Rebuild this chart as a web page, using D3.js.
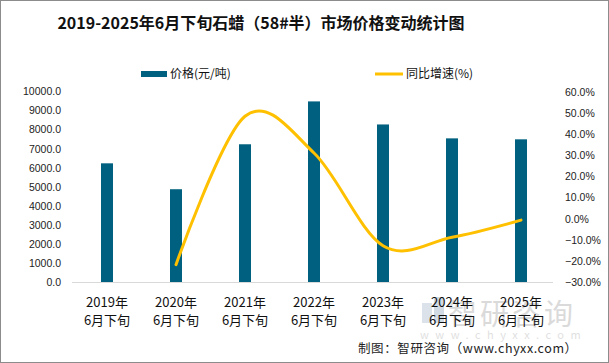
<!DOCTYPE html>
<html>
<head>
<meta charset="utf-8">
<script src="https://cdn.jsdelivr.net/npm/d3@7"></script>
<style>
  body { margin: 0; background: #fff; }
  svg { display: block; font-family: "Noto Sans CJK SC", "Liberation Sans", sans-serif; }
</style>
</head>
<body>
<svg id="chart" width="609" height="363"></svg>
<script>
var years = ["2019年", "2020年", "2021年", "2022年", "2023年", "2024年", "2025年"];
var prices = [6230, 4870, 7230, 9480, 8270, 7540, 7490];
var growth = [null, -21.8, 48.5, 31.1, -12.8, -8.8, -0.7];
var leftTicks = [0, 1000, 2000, 3000, 4000, 5000, 6000, 7000, 8000, 9000, 10000];
var rightTicks = [-30, -20, -10, 0, 10, 20, 30, 40, 50, 60];

var barColor = "#00607f",
    lineColor = "#ffc000";

var svg = d3.select("#chart");

svg.append("rect")
    .attr("x", 0.5).attr("y", 0.5)
    .attr("width", 608).attr("height", 362)
    .attr("fill", "#fff").attr("stroke", "#8c8c8c");

svg.append("text")
    .attr("x", 261).attr("y", 29)
    .attr("text-anchor", "middle")
    .attr("font-size", 16).attr("font-weight", "bold")
    .attr("fill", "#111")
    .text("2019-2025年6月下旬石蜡（58#半）市场价格变动统计图");

var x = d3.scaleBand().domain(years).range([72.5, 555.5]);
var y = d3.scaleLinear().domain([0, 10000]).range([282, 91.5]);
var y2 = d3.scaleLinear().domain([-30, 60]).range([282, 92]);

// left axis
var la = svg.append("g").attr("transform", "translate(61,0)")
    .call(d3.axisLeft(y).tickValues(leftTicks).tickSize(0).tickPadding(0)
      .tickFormat(function(d) { return d3.format(".1f")(d); }));
la.select(".domain").remove();
la.selectAll("text").attr("font-family", "Liberation Sans, sans-serif").attr("font-size", 10.5).attr("fill", "#222");

// right axis
var ra = svg.append("g").attr("transform", "translate(565,0)")
    .call(d3.axisRight(y2).tickValues(rightTicks).tickSize(0).tickPadding(0)
      .tickFormat(function(d) { return d3.format(".1f")(d) + "%"; }));
ra.select(".domain").remove();
ra.selectAll("text").attr("font-family", "Liberation Sans, sans-serif").attr("font-size", 10.5).attr("fill", "#222");

// baseline
svg.append("line")
    .attr("x1", 72).attr("x2", 553)
    .attr("y1", y(0) + 0.5).attr("y2", y(0) + 0.5)
    .attr("stroke", "#d9d9d9");

// bars
svg.selectAll(".bar").data(prices).enter().append("rect")
    .attr("class", "bar")
    .attr("x", function(d, i) { return x(years[i]) + x.bandwidth() / 2 - 6; })
    .attr("width", 12)
    .attr("y", function(d) { return y(d); })
    .attr("height", function(d) { return y(0) - y(d); })
    .attr("fill", barColor);

// growth line
var pts = growth.map(function(d, i) { return [x(years[i]) + x.bandwidth() / 2, d]; })
    .filter(function(p) { return p[1] !== null; });
svg.append("path")
    .datum(pts)
    .attr("fill", "none")
    .attr("stroke", lineColor)
    .attr("stroke-width", 3)
    .attr("stroke-linecap", "round")
    .attr("d", d3.line()
      .x(function(p) { return p[0]; })
      .y(function(p) { return y2(p[1]); })
      .curve(d3.curveCatmullRom.alpha(0)));

// watermark (drawn under the axis labels)
var wm = svg.append("g").attr("opacity", 0.3);
wm.append("rect").attr("x", 422).attr("y", 303).attr("width", 10).attr("height", 20).attr("fill", "#8aa0b8");
wm.append("rect").attr("x", 434).attr("y", 297).attr("width", 10).attr("height", 26).attr("fill", "#6d8aa8");
wm.append("text").attr("x", 448).attr("y", 325).attr("font-size", 29).attr("fill", "#888")
    .attr("letter-spacing", 3).text("智研咨询");
wm.append("text").attr("x", 420).attr("y", 339).attr("font-size", 11).attr("fill", "#999")
    .attr("letter-spacing", 6.5).text("www.chyxx.com");

// x labels
var xl = svg.append("g");
years.forEach(function(yr) {
  var cx = x(yr) + x.bandwidth() / 2;
  var t = xl.append("text").attr("text-anchor", "middle")
      .attr("font-size", 13).attr("fill", "#111");
  t.append("tspan").attr("x", cx).attr("y", 307).text(yr);
  t.append("tspan").attr("x", cx).attr("y", 325).text("6月下旬");
});

// legend
svg.append("rect").attr("x", 141).attr("y", 71).attr("width", 26).attr("height", 6).attr("fill", barColor);
svg.append("text").attr("x", 170).attr("y", 78).attr("font-size", 12).attr("fill", "#111").text("价格(元/吨)");
svg.append("line").attr("x1", 375).attr("x2", 403).attr("y1", 74).attr("y2", 74)
    .attr("stroke", lineColor).attr("stroke-width", 3);
svg.append("text").attr("x", 406).attr("y", 78).attr("font-size", 12).attr("fill", "#111").text("同比增速(%)");

svg.append("text")
    .attr("x", 358).attr("y", 353)
    .attr("font-size", 12.5).attr("fill", "#222")
    .attr("letter-spacing", 0.6)
    .text("制图：智研咨询（www.chyxx.com）");
</script>
</body>
</html>
